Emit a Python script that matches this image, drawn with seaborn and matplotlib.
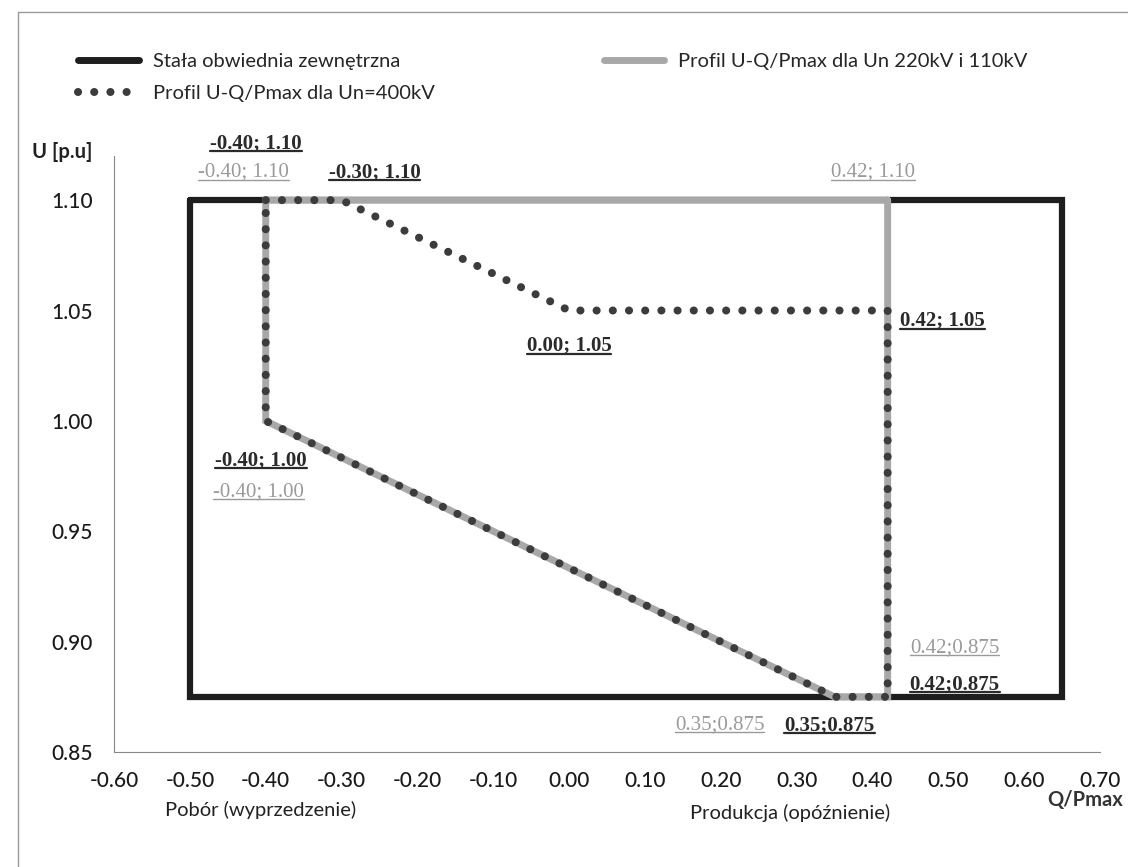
import matplotlib
matplotlib.use("Agg")
import matplotlib.pyplot as plt
import seaborn as sns
from matplotlib.lines import Line2D

# Data
envelope_q = [-0.50, 0.65, 0.65, -0.50, -0.50]
envelope_u = [1.10, 1.10, 0.875, 0.875, 1.10]

prof220_q = [0.42, -0.40, -0.40, 0.35, 0.42, 0.42]
prof220_u = [1.10, 1.10, 1.00, 0.875, 0.875, 1.10]

prof400_q = [-0.40, -0.30, 0.00, 0.42, 0.42, 0.35, -0.40, -0.40]
prof400_u = [1.10, 1.10, 1.05, 1.05, 0.875, 0.875, 1.00, 1.10]

# annotated points: (q, u, style, dx px, dy px)
lab_q = [-0.40, -0.40, -0.30, 0.42, 0.00, 0.42, -0.40, -0.40, 0.42, 0.42, 0.35, 0.35]
lab_u = [1.10, 1.10, 1.10, 1.10, 1.05, 1.05, 1.00, 1.00, 0.875, 0.875, 0.875, 0.875]
lab_kind = ["k", "g", "k", "g", "k", "k", "k", "g", "g", "k", "g", "k"]
lab_dx = [-10, -22, 33, -15, 0, 55, -5, -7, 67, 67, -115, -5]
lab_dy = [57, 28, 28, 28, -35, -10, -39, -71, 49, 13, -28, -28]

x_ticks = [-0.60, -0.50, -0.40, -0.30, -0.20, -0.10, 0.00, 0.10, 0.20, 0.30, 0.40, 0.50, 0.60, 0.70]
y_ticks = [0.85, 0.90, 0.95, 1.00, 1.05, 1.10]

sns.set_style("white")
plt.rcParams['font.family'] = ['Lato', 'DejaVu Sans']

fig = plt.figure(figsize=(11.28, 8.67), dpi=100)
ax = fig.add_axes([0.1011, 0.1326, 0.8741, 0.6875])

BLACK = "#1e1e1e"
GRAY = "#a8a8a8"
DOT = "#3c3c3c"
DOTS = (0, (0.01, 2.0))

sns.lineplot(x=envelope_q, y=envelope_u, sort=False, estimator=None, ax=ax,
             color=BLACK, linewidth=4.5, solid_joinstyle='miter')
sns.lineplot(x=prof220_q, y=prof220_u, sort=False, estimator=None, ax=ax,
             color=GRAY, linewidth=5, solid_joinstyle='miter')
sns.lineplot(x=prof400_q, y=prof400_u, sort=False, estimator=None, ax=ax,
             color=DOT, linewidth=5.8, linestyle=DOTS, dash_capstyle='round')

ax.set_xlim(-0.60, 0.70)
ax.set_ylim(0.85, 1.12)
ax.set_xticks(x_ticks)
ax.set_xticklabels([f"{v:.2f}" for v in x_ticks])
ax.set_yticks(y_ticks)
ax.set_yticklabels([f"{v:.2f}" for v in y_ticks])
ax.tick_params(axis='both', direction='out', length=5, width=0.8, color="#888888",
               labelsize=15, labelcolor="#1a1a1a", pad=10)
ax.tick_params(axis='x', pad=9)
for lbl in ax.get_xticklabels() + ax.get_yticklabels():
    lbl.set_fontweight('medium')
for side in ["top", "right"]:
    ax.spines[side].set_visible(False)
for side in ["left", "bottom"]:
    ax.spines[side].set_color("#888888")
    ax.spines[side].set_linewidth(0.8)
ax.set_xlabel("")
ax.set_ylabel("")

texts = []
for q, u, kind, dx, dy in zip(lab_q, lab_u, lab_kind, lab_dx, lab_dy):
    if u == 0.875:
        s = f"{q:.2f};{u:.3f}"
    else:
        s = f"{q:.2f}; {u:.2f}"
    if kind == "k":
        t = ax.annotate(s, xy=(q, u), xytext=(dx, dy), textcoords='offset pixels',
                        ha='center', va='center', fontsize=15, fontweight='bold',
                        color="#2a2a2a", family=['Liberation Serif'])
    else:
        t = ax.annotate(s, xy=(q, u), xytext=(dx, dy), textcoords='offset pixels',
                        ha='center', va='center', fontsize=15,
                        color="#9a9a9a", family=['Liberation Serif'])
    texts.append((t, kind))

# axis titles
fig.text(62 / 1128, 1 - 152 / 867, "U [p.u]", fontsize=14.5, fontweight='bold',
         ha='center', va='center', color="#222222")
fig.text(1085 / 1128, 1 - 800 / 867, "Q/Pmax", fontsize=14.5, fontweight='bold',
         ha='center', va='center', color="#333333")
fig.text(165 / 1128, 1 - 810 / 867, "Pobór (wyprzedzenie)", fontsize=14.5,
         ha='left', va='center', color="#222222")
fig.text(690 / 1128, 1 - 813 / 867, "Produkcja (opóźnienie)", fontsize=14.5,
         ha='left', va='center', color="#222222")

# legend
handles = [
    Line2D([], [], color=BLACK, linewidth=5),
    Line2D([], [], color=DOT, linewidth=5.8, linestyle=DOTS, dash_capstyle='round'),
    Line2D([], [], color=GRAY, linewidth=5),
]
labels = ["Stała obwiednia zewnętrzna", "Profil U-Q/Pmax dla Un=400kV",
          "Profil U-Q/Pmax dla Un 220kV i 110kV"]
fig.legend(handles, labels, loc='upper left', bbox_to_anchor=(60 / 1128, 1 - 35 / 867),
           ncol=2, frameon=False, fontsize=14.5, handlelength=3.0, handletextpad=0.7,
           columnspacing=8.4, labelspacing=0.75)

# outer chart-area border
fig.add_artist(Line2D([18 / 1128, 18 / 1128], [0, 1 - 12 / 867], transform=fig.transFigure,
                      color="#9a9a9a", linewidth=1))
fig.add_artist(Line2D([18 / 1128, 1], [1 - 12 / 867, 1 - 12 / 867], transform=fig.transFigure,
                      color="#9a9a9a", linewidth=1))

# underline the point labels
fig.canvas.draw()
inv = fig.transFigure.inverted()
for t, kind in texts:
    bb = t.get_window_extent()
    (x0, y0), (x1, _) = inv.transform([(bb.x0, bb.y0 + 2), (bb.x1, bb.y0 + 2)])
    fig.add_artist(Line2D([x0, x1], [y0, y0], transform=fig.transFigure,
                          color="#2a2a2a" if kind == "k" else "#9a9a9a",
                          linewidth=1.6 if kind == "k" else 1.0))

plt.savefig("out.png", dpi=100)
